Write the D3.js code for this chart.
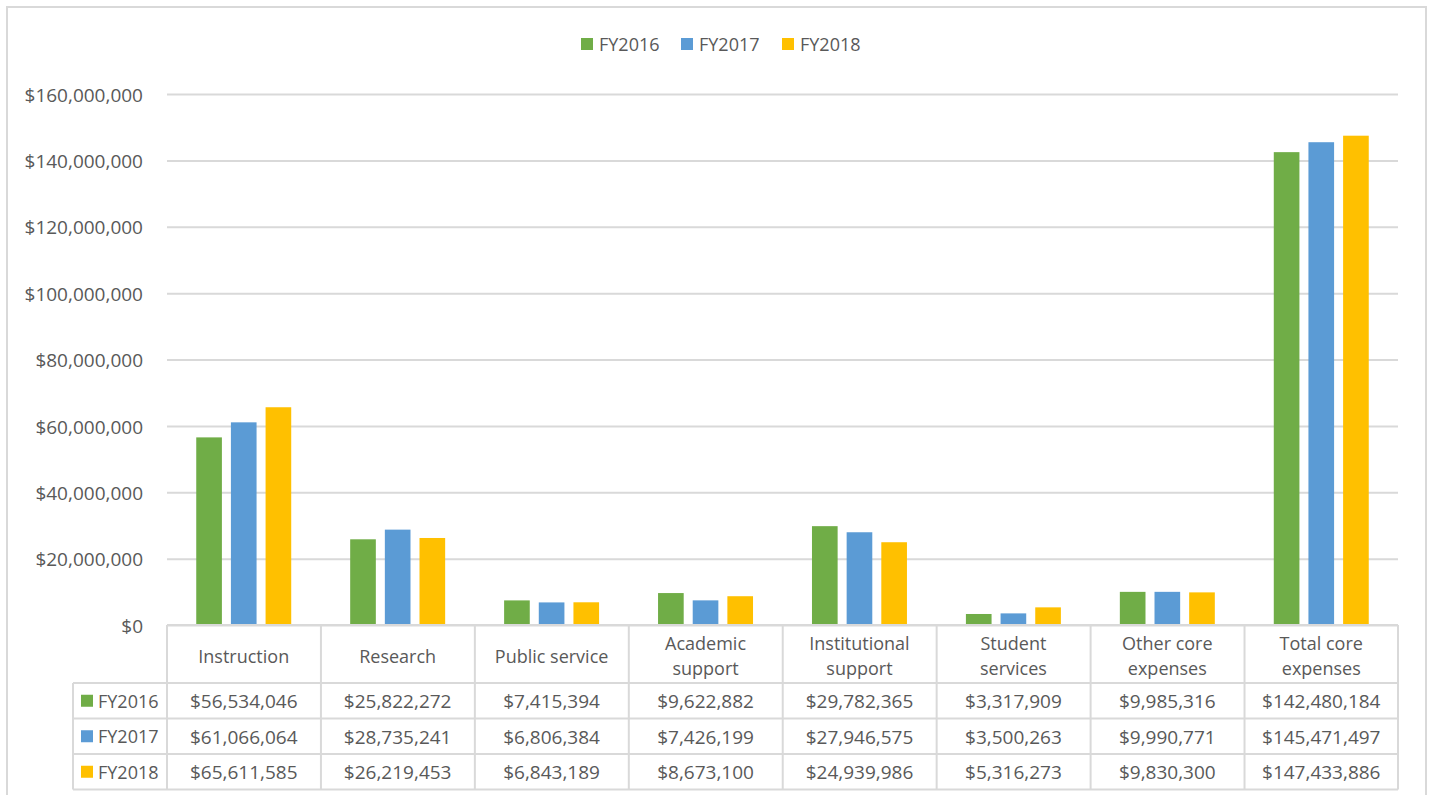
<!DOCTYPE html>
<html>
<head>
<meta charset="utf-8">
<script src="https://cdn.jsdelivr.net/npm/d3@7"></script>
<style>
	body { margin: 0; background: #fff; }
	svg { font-family: "Open Sans", "Liberation Sans", Arial, sans-serif; }
	.grid line { stroke: #d9d9d9; stroke-width: 2; }
	.grid text { fill: #595959; font-size: 19px; }
	.tbl line { stroke: #d9d9d9; stroke-width: 2; }
	.tbl text, .legend text { fill: #595959; font-size: 18px; }
	.tbl text.num { font-size: 19px; }
</style>
</head>
<body>
<svg id="chart" width="1429" height="795"></svg>
<script>
// chart values
var categories = ["Instruction", "Research", "Public service", "Academic\nsupport", "Institutional\nsupport", "Student\nservices", "Other core\nexpenses", "Total core\nexpenses"];
var seriesNames = ["FY2016", "FY2017", "FY2018"];
var fy2016 = [56534046, 25822272, 7415394, 9622882, 29782365, 3317909, 9985316, 142480184];
var fy2017 = [61066064, 28735241, 6806384, 7426199, 27946575, 3500263, 9990771, 145471497];
var fy2018 = [65611585, 26219453, 6843189, 8673100, 24939986, 5316273, 9830300, 147433886];
var yTicks = [0, 20000000, 40000000, 60000000, 80000000, 100000000, 120000000, 140000000, 160000000];
var colors = ["#70ad47", "#5b9bd5", "#ffc000"];

var series = [fy2016, fy2017, fy2018];

var svg = d3.select("#chart"),
	plotLeft = 167, plotRight = 1398, plotTop = 94, base = 625,
	headerH = 58, rowH = 35.5, keyLeft = 73;

// outer chart border
svg.append("rect")
	.attr("x", 7).attr("y", 7)
	.attr("width", 1419).attr("height", 800)
	.attr("fill", "none").attr("stroke", "#d9d9d9").attr("stroke-width", 2);

var x0 = d3.scaleBand().domain(d3.range(categories.length)).range([plotLeft, plotRight]).paddingInner(0.383).paddingOuter(0.19);
var x1 = d3.scaleBand().domain(d3.range(seriesNames.length)).range([0, x0.bandwidth()]).paddingInner(0.26).paddingOuter(0);
var y = d3.scaleLinear().domain([0, 160000000]).range([base, plotTop]);
var fmt = d3.format("$,");

// gridlines + y labels
var yAxis = svg.append("g")
	.attr("class", "grid")
	.attr("transform", "translate(" + plotLeft + ",0)")
	.call(d3.axisLeft(y).tickValues(yTicks).tickFormat(fmt).tickSize(-(plotRight - plotLeft)).tickPadding(24));
yAxis.attr("font-family", null).attr("font-size", null);
yAxis.select(".domain").remove();
yAxis.selectAll("text").attr("dy", "0.38em");

// bars
var groups = svg.append("g").selectAll("g")
	.data(categories)
	.enter().append("g")
	.attr("transform", function(d, i){ return "translate(" + x0(i) + ",0)"; });

groups.selectAll("rect")
	.data(function(d, i){ return series.map(function(s, k){ return {k: k, v: s[i]}; }); })
	.enter().append("rect")
	.attr("x", function(d){ return x1(d.k); })
	.attr("width", x1.bandwidth())
	.attr("y", function(d){ return y(d.v); })
	.attr("height", function(d){ return base - y(d.v); })
	.attr("fill", function(d){ return colors[d.k]; });

// top legend
var legend = svg.append("g").attr("class", "legend");
var legendX = [581, 681, 782];
seriesNames.forEach(function(name, k){
	legend.append("rect").attr("x", legendX[k]).attr("y", 38).attr("width", 12).attr("height", 12).attr("fill", colors[k]);
	legend.append("text").attr("x", legendX[k] + 18).attr("y", 44).attr("dy", "0.4em").text(name);
});

// data table
var tbl = svg.append("g").attr("class", "tbl");
var tableBottom = base + headerH + rowH * 3;
var colEdges = d3.range(categories.length + 1).map(function(i){
	return i < categories.length ? x0.step() * i + plotLeft : plotRight;
});

// horizontal lines
tbl.append("line").attr("x1", plotLeft).attr("x2", plotRight).attr("y1", base).attr("y2", base);
d3.range(4).forEach(function(r){
	var yy = base + headerH + rowH * r;
	tbl.append("line").attr("x1", keyLeft).attr("x2", plotRight).attr("y1", yy).attr("y2", yy);
});
// vertical lines
colEdges.forEach(function(cx){
	tbl.append("line").attr("x1", cx).attr("x2", cx).attr("y1", base).attr("y2", tableBottom);
});
tbl.append("line").attr("x1", keyLeft).attr("x2", keyLeft).attr("y1", base + headerH).attr("y2", tableBottom);

// header labels
categories.forEach(function(c, i){
	var lines = c.split("\n"),
		cx = x0(i) + x0.bandwidth() / 2,
		cy = base + headerH / 2 + 1.5,
		lh = 25;
	var t = tbl.append("text").attr("text-anchor", "middle");
	lines.forEach(function(l, j){
		t.append("tspan")
			.attr("x", cx)
			.attr("y", cy + (j - (lines.length - 1) / 2) * lh)
			.attr("dy", "0.4em")
			.text(l);
	});
});

// rows
series.forEach(function(s, k){
	var cy = base + headerH + rowH * k + rowH / 2;
	tbl.append("rect").attr("x", 81).attr("y", cy - 6).attr("width", 12).attr("height", 12).attr("fill", colors[k]);
	tbl.append("text").attr("x", 98).attr("y", cy).attr("dy", "0.4em").text(seriesNames[k]);
	s.forEach(function(v, i){
		tbl.append("text")
			.attr("class", "num")
			.attr("x", x0(i) + x0.bandwidth() / 2)
			.attr("y", cy)
			.attr("dy", "0.4em")
			.attr("text-anchor", "middle")
			.text(fmt(v));
	});
});
</script>
</body>
</html>
